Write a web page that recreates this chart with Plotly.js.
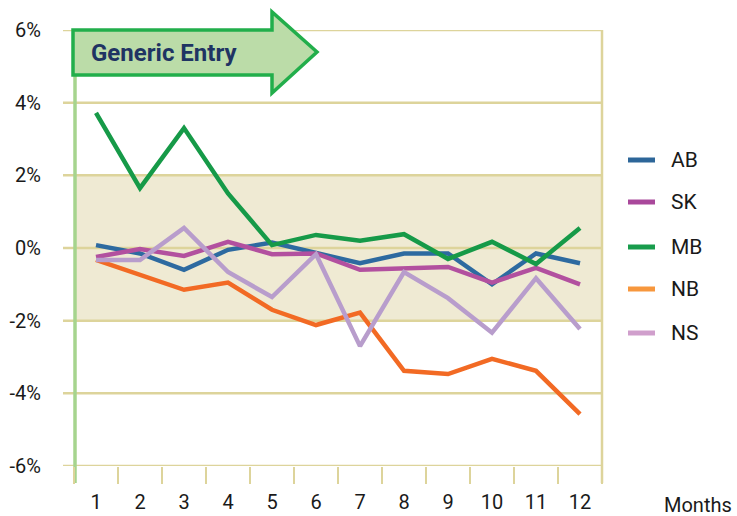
<!DOCTYPE html>
<html><head><meta charset="utf-8">
<script src="https://cdn.plot.ly/plotly-3.0.1.min.js"></script>
<style>html,body{margin:0;padding:0;background:#fff}#chart{width:737px;height:516px}</style>
</head><body><div id="chart"></div>
<script>
// ---- data ----
const months = ['1','2','3','4','5','6','7','8','9','10','11','12'];
const seriesNames = ['AB','SK','MB','NB','NS'];
const AB = [0.08,-0.15,-0.6,-0.05,0.15,-0.15,-0.42,-0.15,-0.15,-1.0,-0.15,-0.42];
const SK = [-0.25,-0.03,-0.22,0.17,-0.17,-0.15,-0.6,-0.55,-0.52,-0.95,-0.55,-1.0];
const MB = [3.72,1.65,3.3,1.5,0.08,0.36,0.2,0.38,-0.3,0.17,-0.44,0.55];
const NB = [-0.33,-0.75,-1.15,-0.95,-1.7,-2.12,-1.78,-3.38,-3.47,-3.05,-3.38,-4.57];
const NS = [-0.33,-0.33,0.55,-0.66,-1.35,-0.17,-2.7,-0.66,-1.38,-2.33,-0.83,-2.23];
const yTickVals = [6,4,2,0,-2,-4,-6];
const yTickText = ['6%','4%','2%','0%','-2%','-4%','-6%'];
const bandRange = [-2, 2];
const arrowLabel = 'Generic Entry';
const xAxisLabel = 'Months';

// ---- styles ----
const lineColors = ['#2d6aa0','#b2509f','#169a48','#f26a24','#b89dcc'];
const legendColors = ['#2d6699','#a9489b','#189c4c','#f7973d','#d09fcc'];
const FONT = 'Roboto, "Liberation Sans", sans-serif';
const TXT = '#1a1a1a';
const GRID = '#ddd49b';
const W = 737, H = 516, ML = 74, MR = 135, MT = 30, MB_ = 50;
const PW = W - ML - MR, PH = H - MT - MB_;
const px = x => (x - ML) / PW;
const py = y => (H - MB_ - y) / PH;

const values = [AB, SK, MB, NB, NS];
const traces = seriesNames.map((n, i) => ({
  type: 'scatter', mode: 'lines', name: n, x: months, y: values[i],
  line: {color: lineColors[i], width: 4.5}, showlegend: false, hoverinfo: 'skip'
}));

const shapes = [];
shapes.push({type:'rect', xref:'paper', yref:'y', x0:0, x1:1, y0:bandRange[0], y1:bandRange[1],
  fillcolor:'#efead3', line:{width:0}, layer:'below'});
yTickVals.forEach(v => shapes.push({type:'line', xref:'paper', yref:'y', x0:px(63), x1:1, y0:v, y1:v,
  line:{color:GRID, width:2.5}, layer:'below'}));
shapes.push({type:'line', xref:'paper', yref:'paper', x0:1, x1:1, y0:py(483), y1:1, line:{color:GRID, width:2.5}, layer:'below'});
shapes.push({type:'line', xref:'paper', yref:'paper', x0:px(75), x1:px(75), y0:py(483), y1:1, line:{color:'#a6d48e', width:3.5}, layer:'below'});
const pts = [[73,30],[272,30],[272,12],[317,52],[272,93],[272,75],[73,75]];
const path = 'M ' + pts.map(p => px(p[0]) + ',' + py(p[1])).join(' L ') + ' Z';
shapes.push({type:'path', xref:'paper', yref:'paper', path: path, fillcolor:'#bbdca8',
  line:{color:'#22ae4b', width:3.5}, layer:'above'});

const annotations = [];
annotations.push({xref:'paper', yref:'paper', x:px(89), y:py(53), xanchor:'left', yanchor:'middle',
  text:'<b>' + arrowLabel + '</b>', showarrow:false, font:{family:FONT, size:24, color:'#1f3463'}});
annotations.push({xref:'paper', yref:'paper', x:px(698), y:py(505), xanchor:'center', yanchor:'middle',
  text:xAxisLabel, showarrow:false, font:{family:FONT, size:20, color:TXT}});
const legY = [160, 202, 247, 289, 333];
seriesNames.forEach((n, i) => {
  shapes.push({type:'line', xref:'paper', yref:'paper', x0:px(628), x1:px(655), y0:py(legY[i]), y1:py(legY[i]),
    line:{color:legendColors[i], width:5}});
  annotations.push({xref:'paper', yref:'paper', x:px(669), y:py(legY[i]), xanchor:'left', yanchor:'middle',
    text:n, showarrow:false, font:{family:FONT, size:21, color:TXT}});
});

const layout = {
  width: W, height: H, margin:{l:ML, r:MR, t:MT, b:MB_},
  paper_bgcolor:'#fff', plot_bgcolor:'rgba(0,0,0,0)',
  font:{family:FONT, size:20, color:TXT},
  xaxis:{type:'category', range:[-0.5, 11.5], showgrid:false, zeroline:false, showline:false,
    ticks:'outside', tickson:'boundaries', ticklen:17, tickwidth:2.5, tickcolor:GRID,
    ticklabelstandoff:22, tickfont:{family:FONT, size:20, color:TXT}},
  yaxis:{range:[-6, 6], tickvals:yTickVals, ticktext:yTickText, showgrid:false, zeroline:false,
    showline:false, ticks:'outside', ticklen:28, tickcolor:'rgba(0,0,0,0)',
    tickfont:{family:FONT, size:20, color:TXT}},
  shapes: shapes, annotations: annotations
};
Plotly.newPlot('chart', traces, layout, {staticPlot:true, displayModeBar:false});
</script>
</body></html>
